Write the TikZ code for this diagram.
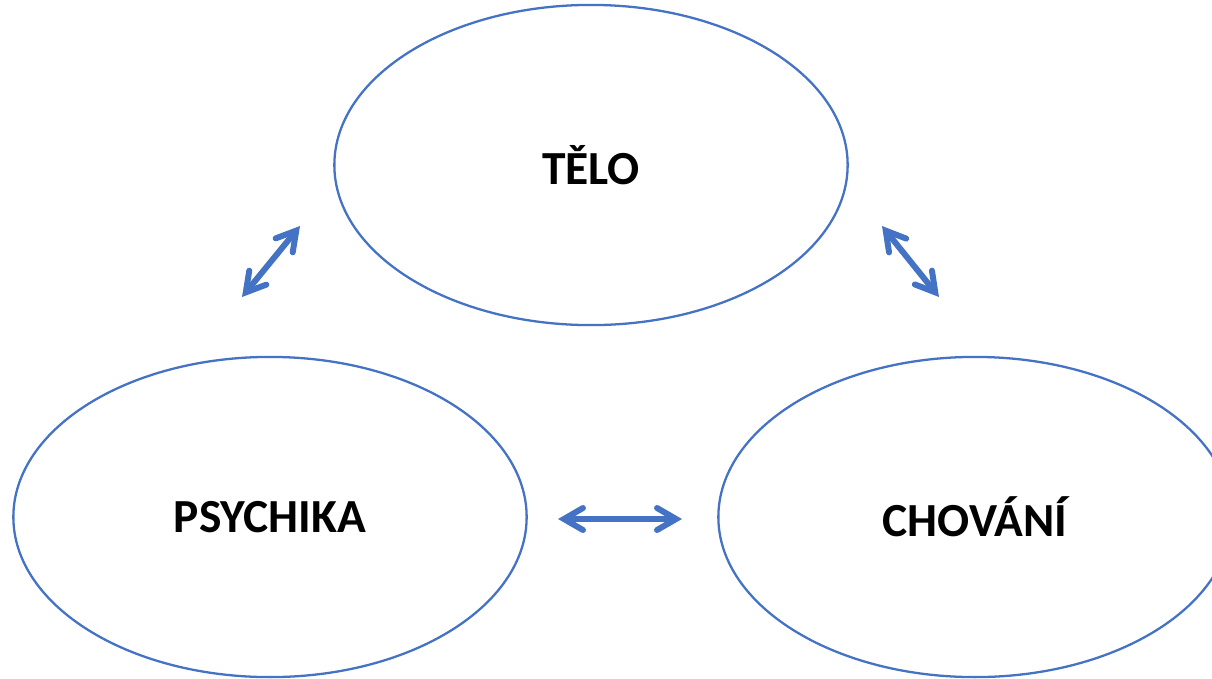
\documentclass[tikz,border=0pt]{standalone}
\usepackage{fontspec}
\setmainfont{Carlito}
\usetikzlibrary{shapes.geometric, arrows.meta, positioning}

\definecolor{ofblue}{HTML}{4472C4}

\begin{document}
\begin{tikzpicture}[x=0.01cm, y=-0.01cm,
	bubble/.style={ellipse, draw=ofblue, line width=0.65pt, inner sep=0pt,
		minimum width=5.13cm, minimum height=3.2cm,
		font=\fontsize{13.5}{16}\selectfont\bfseries},
	link/.style={ofblue, line width=1.7pt, line cap=round,
		{Straight Barb[length=1.9mm, width=2.2mm, line cap=round]}-{Straight Barb[length=1.9mm, width=2.2mm, line cap=round]}}]
	\useasboundingbox (0,0) rectangle (1212,678);
	
	\node[bubble] (telo) at (591,165) {TĚLO};
	\node[bubble] (psy) at (270,517) {PSYCHIKA};
	\node[bubble] (chov) at (975,517) {CHOVÁNÍ};
	
	\coordinate (l1) at (242,297);
	\coordinate (l2) at (300,226);
	\coordinate (r1) at (882,226);
	\coordinate (r2) at (939,297);
	\coordinate (h1) at (558,519);
	\coordinate (h2) at (682,519);
	
	\draw[link] (l1) -- (l2);
	\draw[link] (r1) -- (r2);
	\draw[link] (h1) -- (h2);
\end{tikzpicture}
\end{document}
